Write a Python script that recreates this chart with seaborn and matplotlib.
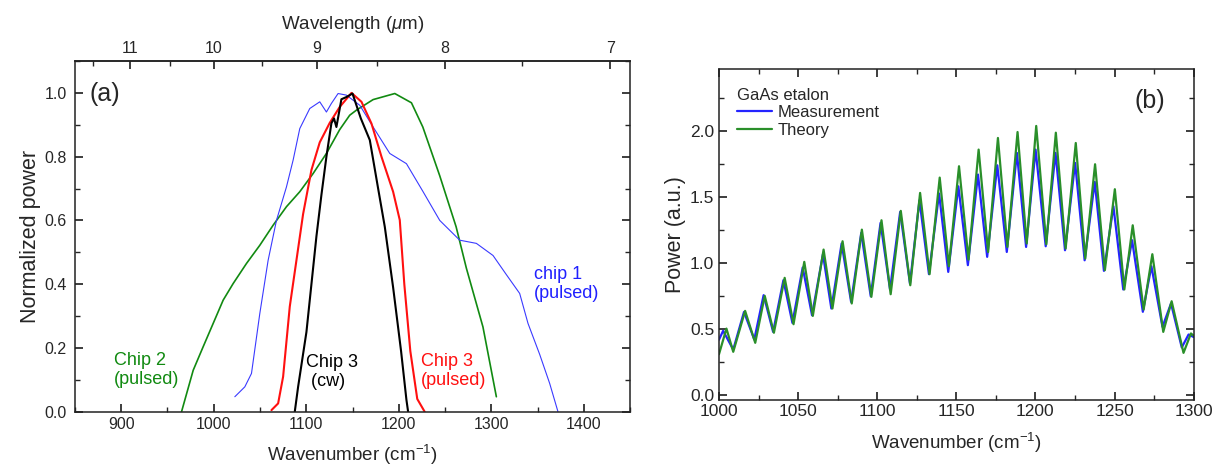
import numpy as np
import pandas as pd
import seaborn as sns
import matplotlib.pyplot as plt
from matplotlib.ticker import MultipleLocator, FormatStrFormatter

# ---- panel (a): normalized spectra ----
chip1_wn = [1022.8, 1033.6, 1040.8, 1049.8, 1058.8, 1067.8, 1078.6, 1085.8, 1093.0, 1103.8,
            1114.6, 1121.8, 1127.2, 1134.4, 1143.4, 1157.9, 1172.3, 1190.3, 1208.3, 1226.3,
            1244.3, 1265.9, 1283.9, 1301.9, 1316.3, 1330.7, 1339.7, 1352.3, 1363.1, 1372.1]
chip1_pw = [0.047, 0.078, 0.12, 0.308, 0.475, 0.60, 0.705, 0.789, 0.888, 0.951,
            0.972, 0.94, 0.967, 0.998, 0.993, 0.961, 0.893, 0.81, 0.778, 0.69,
            0.60, 0.538, 0.528, 0.49, 0.43, 0.371, 0.277, 0.18, 0.089, 0.0]

chip2_wn = [965.2, 977.8, 988.6, 999.4, 1010.2, 1021.0, 1035.4, 1049.8, 1064.2, 1078.6,
            1093.0, 1107.4, 1121.8, 1136.2, 1147.0, 1154.3, 1172.3, 1195.7, 1213.7, 1226.0,
            1244.3, 1262.0, 1273.1, 1291.0, 1305.5]
chip2_pw = [0.0, 0.13, 0.204, 0.277, 0.35, 0.402, 0.465, 0.522, 0.585, 0.643,
            0.69, 0.747, 0.81, 0.885, 0.93, 0.946, 0.979, 0.998, 0.969, 0.893,
            0.74, 0.58, 0.45, 0.266, 0.047]

chip3p_wn = [1062.4, 1069.6, 1075.0, 1082.2, 1089.4, 1096.6, 1105.6, 1114.6, 1125.4, 1136.2,
             1145.2, 1148.9, 1159.7, 1170.5, 1181.3, 1193.9, 1201.1, 1206.0, 1212.5, 1220.0,
             1228.0]
chip3p_pw = [0.005, 0.026, 0.11, 0.33, 0.475, 0.62, 0.758, 0.845, 0.906, 0.956,
             0.987, 1.0, 0.972, 0.904, 0.80, 0.69, 0.601, 0.40, 0.19, 0.04,
             0.0]

chip3cw_wn = [1087.6, 1091.2, 1100.2, 1111.0, 1116.4, 1121.8, 1127.2, 1130.0, 1132.6, 1138.0,
              1143.4, 1150.0, 1159.0, 1168.7, 1177.7, 1184.9, 1193.9, 1202.5, 1208.3, 1210.1]
chip3cw_pw = [0.0, 0.078, 0.25, 0.55, 0.68, 0.80, 0.905, 0.92, 0.893, 0.98,
              0.987, 0.998, 0.92, 0.852, 0.70, 0.58, 0.39, 0.19, 0.037, 0.0]

# ---- panel (b): GaAs etalon, maxima/minima ----
meas_wn = [1000.0, 1002.6, 1009.0, 1015.8, 1022.3, 1028.2, 1034.2, 1040.7, 1046.4, 1052.9,
           1058.8, 1065.7, 1071.0, 1077.5, 1083.5, 1089.9, 1095.9, 1102.1, 1108.1, 1114.5,
           1120.7, 1126.7, 1132.7, 1139.1, 1144.9, 1151.3, 1157.3, 1163.7, 1169.5, 1175.9,
           1181.9, 1188.3, 1194.1, 1200.1, 1206.5, 1212.7, 1218.7, 1225.1, 1231.1, 1237.5,
           1243.3, 1249.3, 1255.5, 1261.1, 1267.9, 1273.3, 1280.3, 1285.7, 1292.5, 1296.8,
           1300.0]
meas_pw = [0.42, 0.487, 0.345, 0.63, 0.421, 0.757, 0.479, 0.87, 0.547, 0.966,
           0.605, 1.067, 0.656, 1.148, 0.706, 1.228, 0.749, 1.304, 0.80, 1.387,
           0.845, 1.475, 0.916, 1.526, 0.933, 1.581, 0.984, 1.67, 1.047, 1.74,
           1.084, 1.834, 1.122, 1.859, 1.127, 1.834, 1.097, 1.758, 1.021, 1.614,
           0.941, 1.43, 0.80, 1.173, 0.631, 0.976, 0.517, 0.694, 0.361, 0.459,
           0.44]

theory_wn = [1000.0, 1004.7, 1009.0, 1016.5, 1022.9, 1028.9, 1034.7, 1041.5, 1047.1, 1053.9,
             1059.3, 1066.1, 1071.7, 1078.1, 1083.9, 1090.3, 1096.3, 1102.7, 1108.5, 1114.9,
             1120.9, 1127.1, 1133.1, 1139.5, 1145.3, 1151.7, 1157.7, 1164.1, 1170.1, 1176.3,
             1182.3, 1188.7, 1194.5, 1200.5, 1206.9, 1212.9, 1219.1, 1225.5, 1231.5, 1237.7,
             1243.9, 1250.2, 1256.2, 1261.5, 1268.4, 1273.9, 1280.8, 1286.1, 1293.6, 1298.3,
             1300.0]
theory_pw = [0.31, 0.504, 0.328, 0.638, 0.396, 0.752, 0.472, 0.888, 0.537, 1.009,
             0.60, 1.102, 0.656, 1.165, 0.694, 1.253, 0.744, 1.324, 0.764, 1.395,
             0.832, 1.531, 0.916, 1.647, 0.976, 1.733, 1.026, 1.859, 1.084, 1.947,
             1.122, 1.992, 1.148, 2.038, 1.142, 1.987, 1.11, 1.909, 1.034, 1.748,
             0.946, 1.559, 0.80, 1.286, 0.648, 1.067, 0.479, 0.711, 0.32, 0.467,
             0.45]

sns.set_theme(style="ticks")
plt.rcParams["font.family"] = ["Liberation Sans", "DejaVu Sans"]
plt.rcParams["mathtext.fontset"] = "custom"
plt.rcParams["mathtext.rm"] = "Liberation Sans"
plt.rcParams["mathtext.it"] = "Liberation Sans:italic"
plt.rcParams["axes.edgecolor"] = "#222222"
plt.rcParams["axes.linewidth"] = 1.1

fig = plt.figure(figsize=(12.17, 4.70), dpi=100)
ax1 = fig.add_axes([0.0616, 0.124, 0.4561, 0.7462])
ax2 = fig.add_axes([0.5908, 0.150, 0.390, 0.7026])

spectra = pd.concat([
    pd.DataFrame({"wn": chip2_wn, "pw": chip2_pw, "chip": "chip2"}),
    pd.DataFrame({"wn": chip1_wn, "pw": chip1_pw, "chip": "chip1"}),
    pd.DataFrame({"wn": chip3p_wn, "pw": chip3p_pw, "chip": "chip3p"}),
    pd.DataFrame({"wn": chip3cw_wn, "pw": chip3cw_pw, "chip": "chip3cw"}),
])
colors_a = {"chip2": "#118a11", "chip1": "#3a3aff", "chip3p": "#ff1010", "chip3cw": "black"}
widths_a = {"chip2": 1.2, "chip1": 0.8, "chip3p": 1.5, "chip3cw": 1.5}
for name, grp in spectra.groupby("chip", sort=False):
    sns.lineplot(data=grp, x="wn", y="pw", color=colors_a[name], lw=widths_a[name],
                 estimator=None, ax=ax1)

ax1.set_xlim(850, 1450)
ax1.set_ylim(0, 1.1)
ax1.xaxis.set_major_locator(MultipleLocator(100))
ax1.xaxis.set_minor_locator(MultipleLocator(50))
ax1.yaxis.set_major_locator(MultipleLocator(0.2))
ax1.yaxis.set_minor_locator(MultipleLocator(0.1))
ax1.yaxis.set_major_formatter(FormatStrFormatter("%.1f"))
ax1.tick_params(which="both", direction="in", top=False, right=True, labelsize=11.5)
ax1.tick_params(which="major", length=6)
ax1.tick_params(which="minor", length=3.5)
ax1.tick_params(axis="y", pad=6)
ax1.set_xlabel("Wavenumber (cm$^{-1}$)", fontsize=13.5, labelpad=8)
ax1.set_ylabel("Normalized power", fontsize=15.5, labelpad=2)


def wn_to_wl(x):
    x = np.asarray(x, dtype=float)
    with np.errstate(divide="ignore"):
        return 1e4 / x


sec = ax1.secondary_xaxis("top", functions=(wn_to_wl, wn_to_wl))
sec.set_xticks([7, 8, 9, 10, 11])
sec.set_xticks([7.5, 8.5, 9.5, 10.5, 11.5], minor=True)
sec.xaxis.set_major_formatter(FormatStrFormatter("%d"))
sec.tick_params(which="both", direction="in", labelsize=11.5)
sec.tick_params(which="major", length=6)
sec.tick_params(which="minor", length=3.5)
sec.set_xlabel("Wavelength ($\\mu$m)", fontsize=13.5, labelpad=9)

ax1.text(866, 0.995, "(a)", fontsize=18, va="center", ha="left")
ax1.text(892, 0.13, "Chip 2\n(pulsed)", color="#118a11", fontsize=13, va="center",
         ha="left", linespacing=1.15)
ax1.text(1100, 0.125, "Chip 3\n (cw)", color="black", fontsize=13, va="center",
         ha="left", linespacing=1.15)
ax1.text(1224, 0.128, "Chip 3\n(pulsed)", color="#ff1010", fontsize=13, va="center",
         ha="left", linespacing=1.15)
ax1.text(1346, 0.40, "chip 1\n(pulsed)", color="#2020ff", fontsize=13, va="center",
         ha="left", linespacing=1.15)

etalon = pd.concat([
    pd.DataFrame({"wn": meas_wn, "pw": meas_pw, "series": "Measurement"}),
    pd.DataFrame({"wn": theory_wn, "pw": theory_pw, "series": "Theory"}),
])
sns.lineplot(data=etalon, x="wn", y="pw", hue="series",
             palette={"Measurement": "#2424ff", "Theory": "#2a8f2a"},
             lw=1.6, estimator=None, ax=ax2)

ax2.set_xlim(1000, 1300)
ax2.set_ylim(-0.033, 2.467)
ax2.xaxis.set_major_locator(MultipleLocator(50))
ax2.xaxis.set_minor_locator(MultipleLocator(25))
ax2.yaxis.set_major_locator(MultipleLocator(0.5))
ax2.yaxis.set_minor_locator(MultipleLocator(0.25))
ax2.yaxis.set_major_formatter(FormatStrFormatter("%.1f"))
ax2.tick_params(which="both", direction="in", top=True, right=True, labelsize=12.5)
ax2.tick_params(which="major", length=6)
ax2.tick_params(which="minor", length=3.5)
ax2.set_xlabel("Wavenumber (cm$^{-1}$)", fontsize=13.5, labelpad=8)
ax2.set_ylabel("Power (a.u.)", fontsize=15.5, labelpad=3)
ax2.legend(title="GaAs etalon", loc="upper left", frameon=False, alignment="left",
           fontsize=12, title_fontsize=12, handlelength=2.1, handletextpad=0.3,
           labelspacing=0.15, borderaxespad=0.8, borderpad=0.3)
ax2.text(1272, 2.23, "(b)", fontsize=18, ha="center", va="center")

fig.savefig("out.png", dpi=100)
